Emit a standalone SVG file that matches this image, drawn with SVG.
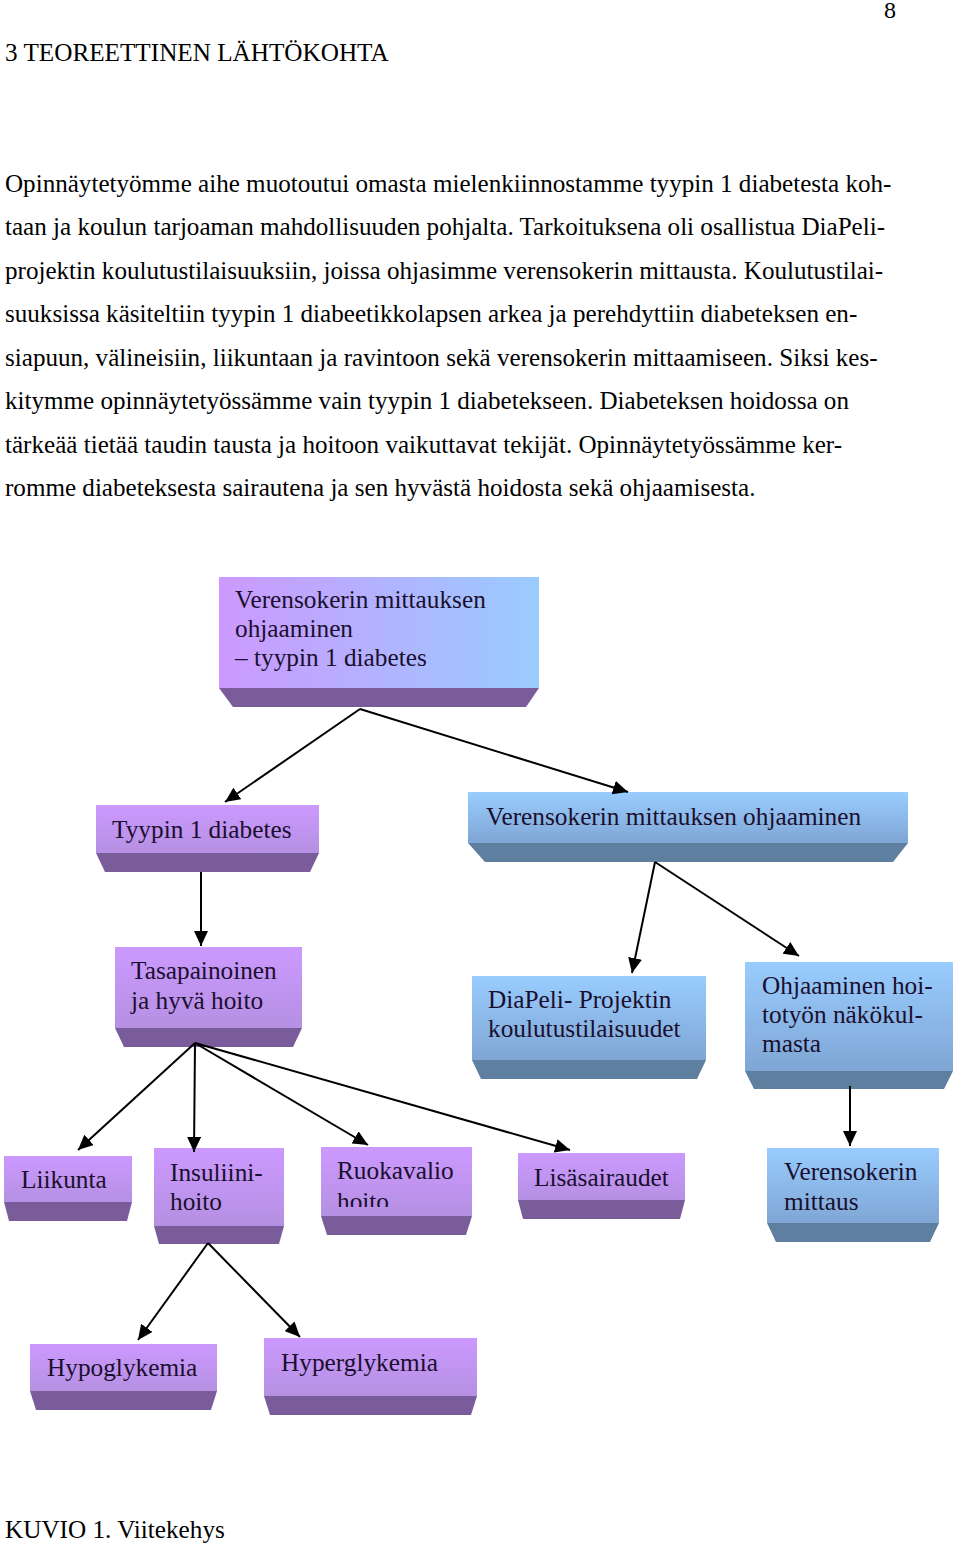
<svg xmlns="http://www.w3.org/2000/svg" width="960" height="1547" viewBox="0 0 960 1547">
<defs>
<linearGradient id="gP" x1="0" y1="0" x2="0" y2="1"><stop offset="0" stop-color="#cc99ff"/><stop offset="1" stop-color="#b590e2"/></linearGradient>
<linearGradient id="gB" x1="0" y1="0" x2="0" y2="1"><stop offset="0" stop-color="#99ccff"/><stop offset="1" stop-color="#7fa6d4"/></linearGradient>
<linearGradient id="gT" x1="0" y1="0" x2="1" y2="0"><stop offset="0" stop-color="#cc99ff"/><stop offset="1" stop-color="#99ccff"/></linearGradient>
<clipPath id="cR"><rect x="321" y="1147" width="151" height="60"/></clipPath>
<marker id="ah" markerUnits="userSpaceOnUse" markerWidth="16" markerHeight="14" refX="15" refY="7" orient="auto"><path d="M0,0 L15,7 L0,14 Z" fill="#000"/></marker>
</defs>
<style>
text{font-family:"Liberation Serif","Times New Roman",serif;fill:#000}
.body{font-size:25.1px}
.n{font-size:25.3px;fill:#1a0f2e}
.bp{fill:#7b5c9b}
.bb{fill:#5e7f9f}
.fp{fill:url(#gP)}
.fb{fill:url(#gB)}
.c line{stroke:#000;stroke-width:2;marker-end:url(#ah)}
</style>
<rect width="960" height="1547" fill="#fff"/>
<text x="884" y="18" style="font-size:24px">8</text>
<text x="5" y="61" style="font-size:25.2px">3 TEOREETTINEN LÄHTÖKOHTA</text>
<g id="paragraph">
<text x="5" y="192" class="body">Opinnäytetyömme aihe muotoutui omasta mielenkiinnostamme tyypin 1 diabetesta koh-</text>
<text x="5" y="235" class="body">taan ja koulun tarjoaman mahdollisuuden pohjalta. Tarkoituksena oli osallistua DiaPeli-</text>
<text x="5" y="279" class="body">projektin koulutustilaisuuksiin, joissa ohjasimme verensokerin mittausta. Koulutustilai-</text>
<text x="5" y="322" class="body">suuksissa käsiteltiin tyypin 1 diabeetikkolapsen arkea ja perehdyttiin diabeteksen en-</text>
<text x="5" y="366" class="body">siapuun, välineisiin, liikuntaan ja ravintoon sekä verensokerin mittaamiseen. Siksi kes-</text>
<text x="5" y="409" class="body">kitymme opinnäytetyössämme vain tyypin 1 diabetekseen. Diabeteksen hoidossa on</text>
<text x="5" y="453" class="body">tärkeää tietää taudin tausta ja hoitoon vaikuttavat tekijät. Opinnäytetyössämme ker-</text>
<text x="5" y="496" class="body">romme diabeteksesta sairautena ja sen hyvästä hoidosta sekä ohjaamisesta.</text>
</g>

<g id="n-top">
<rect x="219" y="577" width="320" height="111" fill="url(#gT)"/>
<polygon class="bp" points="219,688 539,688 526,707 233,707"/>
<text class="n" x="235" y="608">Verensokerin mittauksen</text>
<text class="n" x="235" y="637">ohjaaminen</text>
<text class="n" x="235" y="666">– tyypin 1 diabetes</text>
</g>
<g id="n-tyypin">
<rect class="fp" x="96" y="805" width="223" height="48"/>
<polygon class="bp" points="96,853 319,853 310,872 105,872"/>
<text class="n" x="112" y="838">Tyypin 1 diabetes</text>
</g>
<g id="n-ohjaaminen">
<rect class="fb" x="468" y="792" width="440" height="51"/>
<polygon class="bb" points="468,843 908,843 893,862 485,862"/>
<text class="n" x="486" y="825">Verensokerin mittauksen ohjaaminen</text>
</g>
<g id="n-tasapaino">
<rect class="fp" x="115" y="947" width="187" height="81"/>
<polygon class="bp" points="115,1028 302,1028 293,1047 124,1047"/>
<text class="n" x="131" y="979">Tasapainoinen</text>
<text class="n" x="131" y="1009">ja hyvä hoito</text>
</g>
<g id="n-diapeli">
<rect class="fb" x="472" y="976" width="234" height="84"/>
<polygon class="bb" points="472,1060 706,1060 697,1079 481,1079"/>
<text class="n" x="488" y="1008">DiaPeli- Projektin</text>
<text class="n" x="488" y="1037">koulutustilaisuudet</text>
</g>
<g id="n-hoitotyo">
<rect class="fb" x="745" y="962" width="208" height="109"/>
<polygon class="bb" points="745,1071 953,1071 944,1089 754,1089"/>
<text class="n" x="762" y="994">Ohjaaminen hoi-</text>
<text class="n" x="762" y="1023">totyön näkökul-</text>
<text class="n" x="762" y="1052">masta</text>
</g>
<g id="n-mittaus">
<rect class="fb" x="767" y="1148" width="172" height="75"/>
<polygon class="bb" points="767,1223 939,1223 930,1242 776,1242"/>
<text class="n" x="784" y="1180">Verensokerin</text>
<text class="n" x="784" y="1210">mittaus</text>
</g>
<g id="n-liikunta">
<rect class="fp" x="4" y="1156" width="128" height="46"/>
<polygon class="bp" points="4,1202 132,1202 127,1221 9,1221"/>
<text class="n" x="21" y="1188">Liikunta</text>
</g>
<g id="n-insuliini">
<rect class="fp" x="154" y="1148" width="130" height="78"/>
<polygon class="bp" points="154,1226 284,1226 279,1244 159,1244"/>
<text class="n" x="170" y="1181">Insuliini-</text>
<text class="n" x="170" y="1210">hoito</text>
</g>
<g id="n-ruokavalio">
<rect class="fp" x="321" y="1147" width="151" height="69"/>
<text class="n" x="337" y="1179">Ruokavalio</text>
<text class="n" x="337" y="1210" clip-path="url(#cR)">hoito</text>
<polygon class="bp" points="321,1216 472,1216 466,1235 327,1235"/>
</g>
<g id="n-lisa">
<rect class="fp" x="518" y="1153" width="167" height="47"/>
<polygon class="bp" points="518,1200 685,1200 680,1219 523,1219"/>
<text class="n" x="534" y="1186">Lisäsairaudet</text>
</g>
<g id="n-hypo">
<rect class="fp" x="30" y="1344" width="187" height="47"/>
<polygon class="bp" points="30,1391 217,1391 211,1410 36,1410"/>
<text class="n" x="47" y="1376">Hypoglykemia</text>
</g>
<g id="n-hyper">
<rect class="fp" x="264" y="1338" width="213" height="58"/>
<polygon class="bp" points="264,1396 477,1396 471,1415 270,1415"/>
<text class="n" x="281" y="1371">Hyperglykemia</text>
</g>

<g id="connectors" class="c">
<line x1="360" y1="709" x2="225" y2="802"/>
<line x1="360" y1="709" x2="628" y2="792"/>
<line x1="201" y1="872" x2="201" y2="946"/>
<line x1="655" y1="862" x2="632" y2="973"/>
<line x1="655" y1="862" x2="799" y2="956"/>
<line x1="850" y1="1086" x2="850" y2="1146"/>
<line x1="195" y1="1043" x2="78" y2="1150"/>
<line x1="195" y1="1043" x2="194" y2="1152"/>
<line x1="195" y1="1043" x2="368" y2="1145"/>
<line x1="195" y1="1043" x2="570" y2="1150"/>
<line x1="208" y1="1243" x2="138" y2="1340"/>
<line x1="208" y1="1243" x2="300" y2="1337"/>
</g>
<text x="5" y="1538" style="font-size:25.2px">KUVIO 1. Viitekehys</text>
</svg>
